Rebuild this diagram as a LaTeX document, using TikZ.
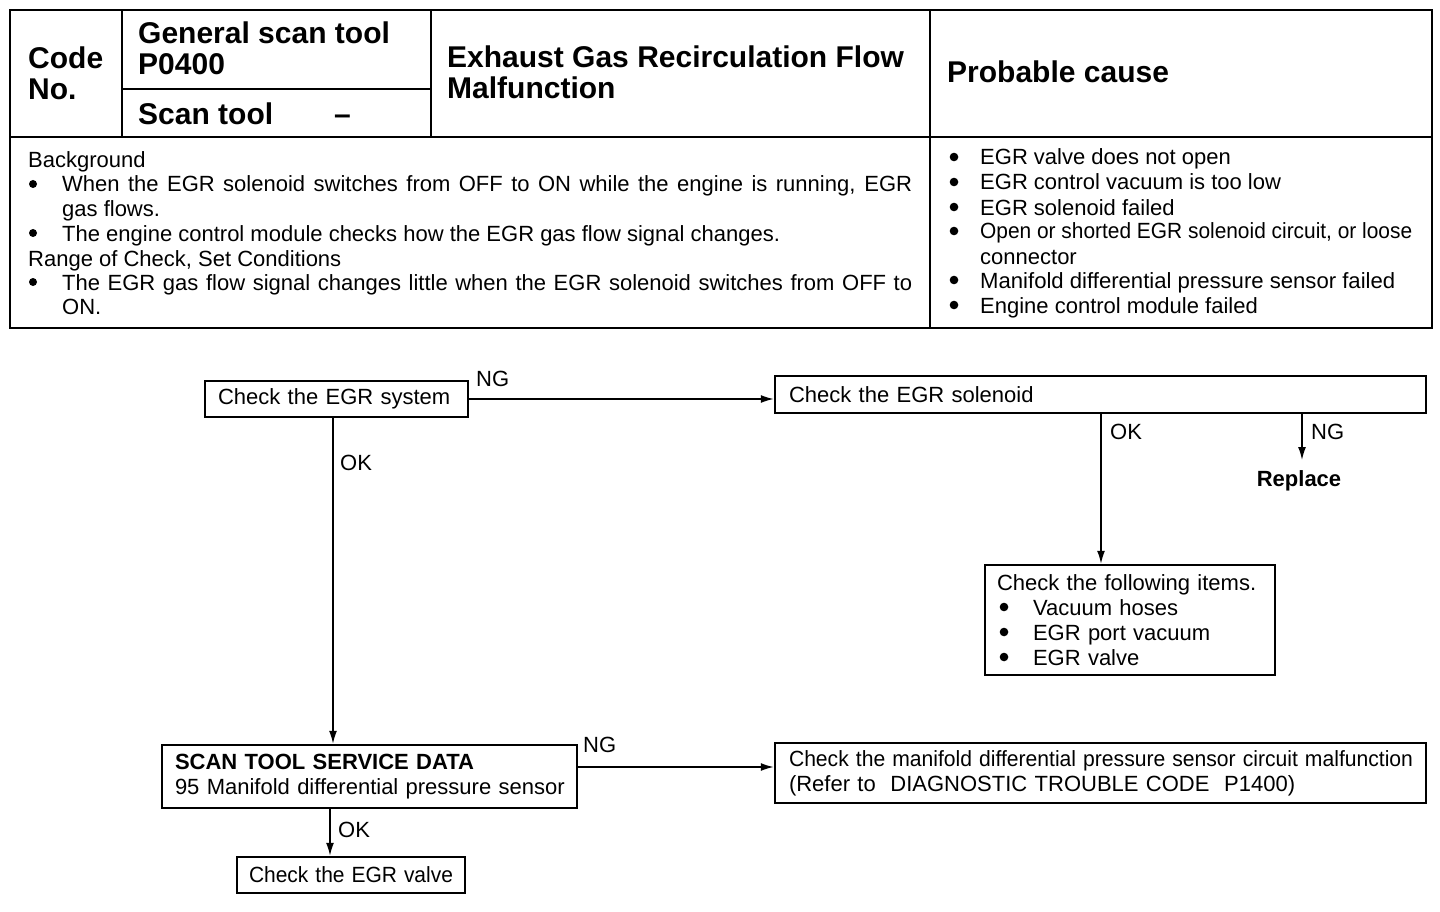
\documentclass[tikz,border=0pt]{standalone}
\usepackage{fontspec}
\setmainfont{Liberation Sans}
\usetikzlibrary{arrows.meta}
\newcommand\fitw[2]{\resizebox{#1}{\height}{#2}}
\begin{document}
\begin{tikzpicture}[x=1pt,y=-1pt,
  every node/.style={inner sep=0pt},
  body/.style={font=\fontsize{22}{25}\selectfont},
  head/.style={font=\fontsize{30}{31}\selectfont\bfseries},
  txt/.style={body, anchor=base west},
  htxt/.style={head, anchor=base west},
  tbl/.style={line width=2.6pt},
  tblin/.style={line width=2pt},
  fbox/.style={draw, line width=2.5pt, body, align=left, inner ysep=0pt},
  arr/.style={line width=1.5pt, -{Latex[length=13pt,width=8pt]}},
  dot/.style={fill=black},
]
\useasboundingbox (0,0) rectangle (1440,912);
% ---------- table ----------
\draw[tbl] (10,10) rectangle (1432,328);
\draw[tblin] (10,137) -- (1432,137);
\draw[tblin] (122,10) -- (122,137);
\draw[tblin] (431,10) -- (431,137);
\draw[tblin] (930,10) -- (930,328);
\draw[tblin] (122,89) -- (431,89);
\node[htxt] (code1) at (28,69) {Code};
\node[htxt] (code2) at (28,100) {No.};
\node[htxt] (gen1) at (138,44) {General scan tool};
\node[htxt] (gen2) at (138,75) {P0400};
\node[htxt] (scan) at (138,125) {Scan tool};
\node[htxt] (dash) at (334,125) {--};
\node[htxt] (title1) at (447,68) {Exhaust Gas Recirculation Flow};
\node[htxt] (title2) at (447,99) {Malfunction};
\node[htxt] (prob) at (947,83) {Probable cause};
% background cell
\node[txt] (bg0) at (28,168) {Background};
\node[txt] (bg1) at (62,192) {\makebox[850pt][s]{When the EGR solenoid switches from OFF to ON while the engine is running, EGR}};
\node[txt] (bg2) at (62,217) {gas flows.};
\node[txt] (bg3) at (62,241) {The engine control module checks how the EGR gas flow signal changes.};
\node[txt] (bg4) at (28,266) {Range of Check, Set Conditions};
\node[txt] (bg5) at (62,290) {\makebox[850pt][s]{The EGR gas flow signal changes little when the EGR solenoid switches from OFF to}};
\node[txt] (bg6) at (62,314) {ON.};
\foreach \y in {184,233,282} \fill[dot] (33,\y) circle (4);
% probable cause cell
\node[txt] (pc1) at (980,165) {EGR valve does not open};
\node[txt] (pc2) at (980,190) {EGR control vacuum is too low};
\node[txt] (pc3) at (980,215) {EGR solenoid failed};
\node[txt] (pc4) at (980,239) {\fitw{432pt}{Open or shorted EGR solenoid circuit, or loose}};
\node[txt] (pc5) at (980,264) {connector};
\node[txt] (pc6) at (980,288) {\fitw{415pt}{Manifold differential pressure sensor failed}};
\node[txt] (pc7) at (980,313) {Engine control module failed};
\foreach \y in {157,182,207,231,280,305} \fill[dot] (954,\y) circle (4.3);
% ---------- flowchart ----------
\node[fbox, inner xsep=13pt, text width=237pt, minimum height=36pt] (box1) at (336.5,399)
  {\makebox[237pt][s]{Check the EGR system}};
\node[fbox, inner xsep=14pt, text width=623pt, minimum height=37pt] (box2) at (1100.5,394.5)
  {Check the EGR solenoid};
\node[fbox, inner xsep=12pt, text width=266pt, minimum height=110pt] (box3) at (1130,620)
  {Check the following items.\\
   \hspace*{36pt}Vacuum hoses\\
   \hspace*{36pt}EGR port vacuum\\
   \hspace*{36pt}EGR valve};
\foreach \y in {607,632,657} \fill[dot] (1004,\y) circle (4.3);
\node[fbox, inner xsep=13pt, text width=389pt, minimum height=63pt] (box4) at (369.5,776.5)
  {\mbox{\textbf{SCAN TOOL SERVICE DATA}}\\\mbox{95 Manifold differential pressure sensor}};
\node[fbox, inner xsep=14pt, text width=623pt, minimum height=60pt] (box5) at (1100.5,773)
  {\fitw{624pt}{Check the manifold differential pressure sensor circuit malfunction}\\
   \mbox{(Refer to~ DIAGNOSTIC TROUBLE CODE~ P1400)}};
\node[fbox, inner xsep=12pt, text width=204pt, minimum height=36pt] (box6) at (351,875)
  {\fitw{204pt}{Check the EGR valve}};
\node[body, font=\fontsize{22}{25}\selectfont\bfseries, anchor=base] (replace) at (1299,486) {Replace};
% labels
\node[txt] (ng1) at (476,386) {NG};
\node[txt] (ok1) at (340,470) {OK};
\node[txt] (ok2) at (1110,439) {OK};
\node[txt] (ng2) at (1311,439) {NG};
\node[txt] (ng3) at (583,752) {NG};
\node[txt] (ok3) at (338,837) {OK};
% helper coordinates
\coordinate (c1) at (333,0);
\coordinate (c2) at (1101,0);
\coordinate (c3) at (0,767);
\coordinate (c4) at (330,0);
\coordinate (rtop) at (1302,460);
% connectors
\draw[arr] (box1.east) -- (box2.west |- box1.east);
\draw[arr] (c1 |- box1.south) -- (c1 |- box4.north);
\draw[arr] (c2 |- box2.south) -- (c2 |- box3.north);
\draw[arr] (rtop |- box2.south) -- (rtop);
\draw[arr] (box4.east |- c3) -- (box5.west |- c3);
\draw[arr] (c4 |- box4.south) -- (c4 |- box6.north);
\end{tikzpicture}
\end{document}
